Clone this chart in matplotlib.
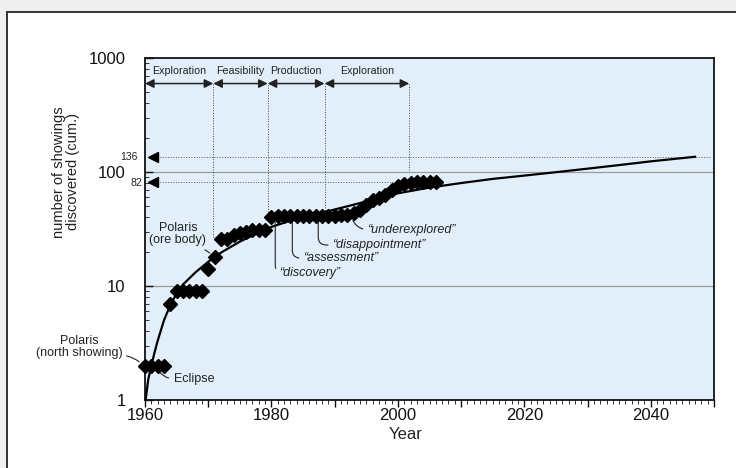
import numpy as np
import matplotlib
matplotlib.use("Agg")
import matplotlib.pyplot as plt
from matplotlib.patches import Rectangle
from matplotlib.ticker import MultipleLocator, FuncFormatter, LogLocator, NullFormatter

plt.rcParams['font.family'] = ['Liberation Sans', 'DejaVu Sans']

# cumulative number of showings discovered, per year
years = [1960, 1961, 1962, 1963, 1964, 1965, 1966, 1967, 1968, 1969,
         1970, 1971, 1972, 1973, 1974, 1975, 1976, 1977, 1978, 1979,
         1980, 1981, 1982, 1983, 1984, 1985, 1986, 1987, 1988, 1989,
         1990, 1991, 1992, 1993, 1994, 1995, 1996, 1997, 1998, 1999,
         2000, 2001, 2002, 2003, 2004, 2005, 2006]
showings = [2, 2, 2, 2, 7, 9, 9, 9, 9, 9,
            14, 18, 26, 26, 28, 29, 30, 31, 31, 31,
            40, 41, 41, 41, 41, 41, 41, 41, 41, 41,
            41, 42, 42, 44, 46, 51, 57, 59, 63, 70,
            75, 79, 80, 81, 81, 82, 82]

# fitted growth curve
curve_years = [1960.1, 1960.5, 1961, 1961.5, 1962, 1963, 1964, 1965, 1966, 1968,
               1970, 1972, 1975, 1978, 1980, 1984, 1988, 1992, 1996, 2000,
               2005, 2010, 2015, 2020, 2026, 2030, 2035, 2040, 2047]
curve_vals = [1.0, 1.5, 2.0, 2.6, 3.3, 5.0, 6.8, 8.6, 10.3, 13.2,
              16.3, 19.6, 24.5, 29.5, 33, 39, 44, 50, 57, 65,
              73, 80, 87, 93, 101, 107, 115, 124, 136]

# project phases (start, end, label)
phase_edges = [1960, 1970.8, 1979.4, 1988.4, 2001.8]
phase_names = ['Exploration', 'Feasibility', 'Production', 'Exploration']
phase_line_bottoms = [27, 40, 43.7, 105]

# annotations: (text, text x, text y, point x, point y)
quotes = [('\u201cdiscovery\u201d', 1981.2, 13.0, 1980.6, 40),
          ('\u201cassessment\u201d', 1985.0, 17.6, 1983.3, 41),
          ('\u201cdisappointment\u201d', 1989.6, 22.9, 1987.4, 41)]

TXT = '#222222'

fig = plt.figure(figsize=(7.36, 4.68), dpi=100, facecolor='#efefef')
fig.patches.append(Rectangle((7 / 736, -0.1), 1.2, 1 - 12 / 468 + 0.1,
                             transform=fig.transFigure, facecolor='white',
                             edgecolor='#333333', lw=1.4, zorder=-10))

ax = fig.add_axes([145 / 736, 1 - 400 / 468, (714 - 145) / 736, (400 - 58) / 468])
ax.set_facecolor('#e2effb')
ax.set_yscale('log')
ax.set_xlim(1960, 2050)
ax.set_ylim(1, 1000)

for s in ax.spines.values():
    s.set_linewidth(1.3)
    s.set_color('#111111')

ax.xaxis.set_major_locator(MultipleLocator(10))
ax.xaxis.set_minor_locator(MultipleLocator(1))
ax.xaxis.set_major_formatter(FuncFormatter(lambda v, p: f'{int(v)}' if int(v) % 20 == 0 else ''))
ax.tick_params(axis='x', which='major', direction='out', length=5, width=1, labelsize=12,
               pad=1, colors='#111111')
ax.tick_params(axis='x', which='minor', direction='out', length=3, width=0.7, colors='#333333')

ax.yaxis.set_major_locator(LogLocator(base=10, numticks=5))
ax.yaxis.set_minor_locator(LogLocator(base=10, subs=np.arange(2, 10), numticks=20))
ax.yaxis.set_minor_formatter(NullFormatter())
ax.yaxis.set_major_formatter(FuncFormatter(lambda v, p: f'{int(round(v))}'))
ax.tick_params(axis='y', which='major', direction='in', length=6, width=1, labelsize=12,
               pad=14, colors='#111111')
ax.tick_params(axis='y', which='minor', direction='in', length=3, width=0.7, colors='#333333')

ax.axhline(10, color='#9a9a9a', lw=0.9, zorder=1)
ax.axhline(100, color='#9a9a9a', lw=0.9, zorder=1)

# curve and data
ax.plot(curve_years, curve_vals, color='black', lw=1.6, zorder=3)
ax.plot(years, showings, 'D', color='black', markersize=7, zorder=4, clip_on=False)

# phase arrows
arrow_y = 597
for i, name in enumerate(phase_names):
    x0, x1 = phase_edges[i], phase_edges[i + 1]
    ax.annotate('', xy=(x1, arrow_y), xytext=(x0, arrow_y),
                arrowprops=dict(arrowstyle='<|-|>', color='#222222', lw=1.1,
                                mutation_scale=13, shrinkA=0, shrinkB=0))
    ax.text((x0 + x1) / 2, 700, name, ha='center', va='bottom', fontsize=7.7, color=TXT)
for x, yb in zip(phase_edges[1:], phase_line_bottoms):
    ax.plot([x, x], [yb, arrow_y], ls=':', color='#444444', lw=0.7, zorder=2)

# 136 and 82 markers
ax.plot([1961.3, 1961.3], [136, 82], '<', color='black', markersize=7, zorder=4)
ax.plot([1962.3, 2049.5], [136, 136], ls=':', color='#555555', lw=0.7, zorder=2)
ax.plot([1962.3, 2000], [82, 82], ls=':', color='#555555', lw=0.7, zorder=2)
ax.text(1958.9, 136, '136', ha='right', va='center', fontsize=7.5, color=TXT, clip_on=False)
ax.text(1959.5, 80, '82', ha='right', va='center', fontsize=7.5, color=TXT, clip_on=False)

# text annotations
ax.annotate('Polaris\n(north showing)', xy=(1959.7, 2.0), xytext=(1949.6, 2.92),
            ha='center', va='center', fontsize=9, color=TXT, linespacing=1.0,
            annotation_clip=False,
            arrowprops=dict(arrowstyle='-', color='#222222', lw=0.8, shrinkA=1, shrinkB=4,
                            relpos=(1.0, 0.15), connectionstyle='arc3,rad=-0.2'))
ax.annotate('Eclipse', xy=(1961.8, 1.95), xytext=(1964.6, 1.53),
            ha='left', va='center', fontsize=9, color=TXT,
            arrowprops=dict(arrowstyle='-', color='#222222', lw=0.8, shrinkA=2, shrinkB=4,
                            relpos=(0.0, 0.5), connectionstyle='arc3,rad=-0.3'))
ax.annotate('Polaris\n(ore body)', xy=(1970.9, 18), xytext=(1965.2, 28.3),
            ha='center', va='center', fontsize=9, color=TXT, linespacing=1.0,
            arrowprops=dict(arrowstyle='-', color='#222222', lw=0.8, shrinkA=1, shrinkB=4,
                            relpos=(0.75, 0.0), connectionstyle='arc3,rad=-0.2'))
for label, tx, ty, px, py in quotes:
    ax.annotate(label, xy=(px, py), xytext=(tx, ty), ha='left', va='center',
                fontsize=9, style='italic', color=TXT,
                arrowprops=dict(arrowstyle='-', color='#222222', lw=0.8, shrinkA=1, shrinkB=4,
                                relpos=(0.0, 0.5),
                                connectionstyle='angle,angleA=0,angleB=90,rad=8'))
ax.annotate('\u201cunderexplored\u201d', xy=(1992.6, 42), xytext=(1995.1, 31),
            ha='left', va='center', fontsize=9, style='italic', color=TXT,
            arrowprops=dict(arrowstyle='-', color='#222222', lw=0.8, shrinkA=1, shrinkB=4,
                            relpos=(0.0, 0.5), connectionstyle='arc3,rad=-0.35'))

ax.set_xlabel('Year', fontsize=12, color=TXT, labelpad=2)
ax.xaxis.set_label_coords((406 - 145) / 569, -0.08)
fig.text(66 / 736, 1 - 172 / 468, 'number of showings\ndiscovered (cum.)', rotation=90,
         ha='center', va='center', fontsize=10.5, color=TXT, linespacing=1.0)

fig.savefig('out.png', dpi=100, facecolor=fig.get_facecolor())
